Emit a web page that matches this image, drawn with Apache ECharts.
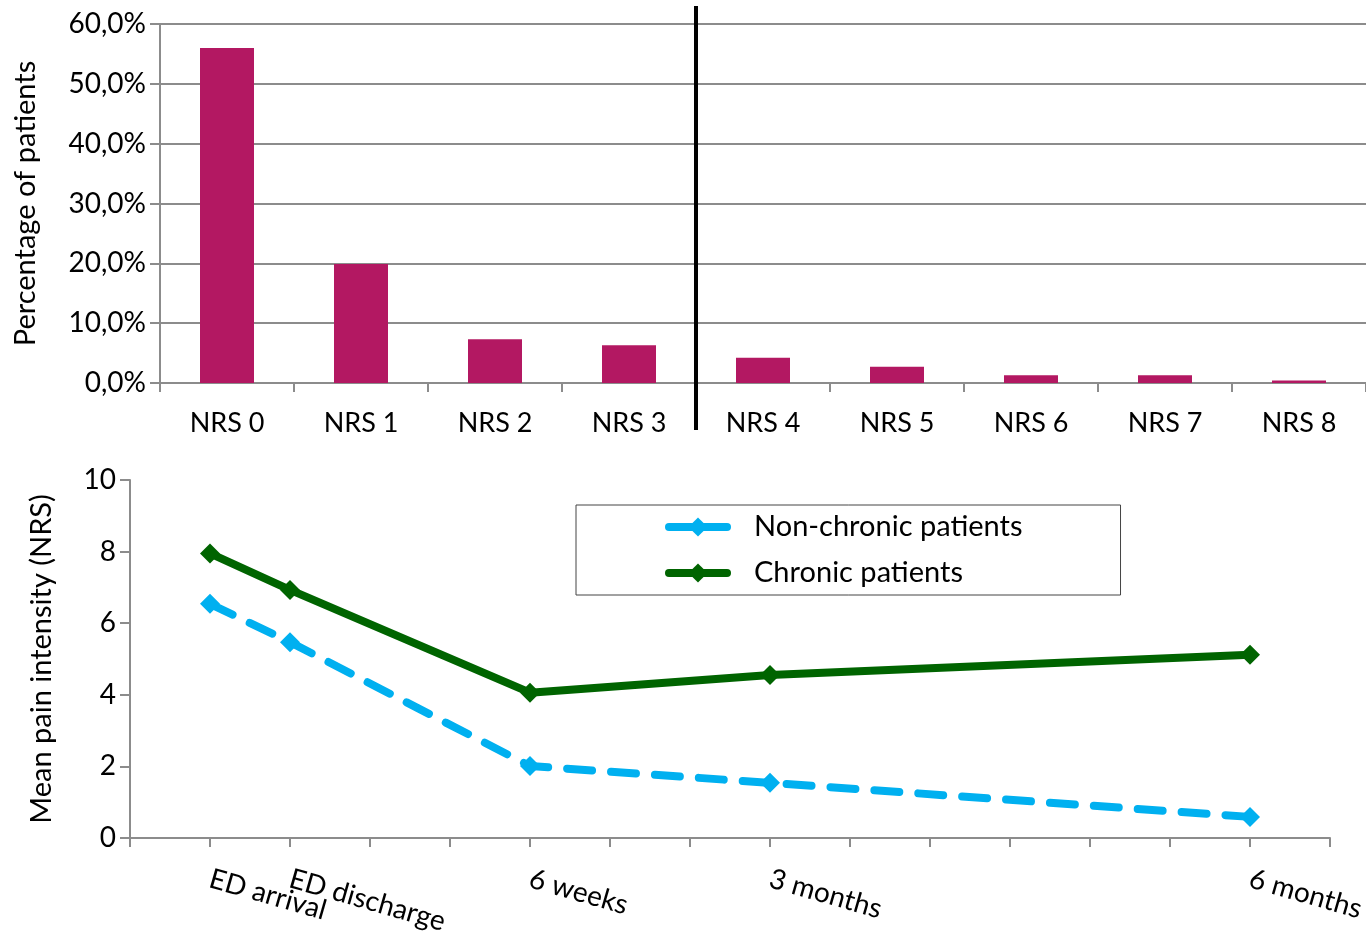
<!DOCTYPE html>
<html><head><meta charset="utf-8">
<script src="https://cdn.jsdelivr.net/npm/echarts@6/dist/echarts.min.js"></script>
<style>html,body{margin:0;padding:0;background:#fff}#c{width:1366px;height:932px}</style>
</head><body><div id="c"></div>
<script>
const nrsCategories = ['NRS 0','NRS 1','NRS 2','NRS 3','NRS 4','NRS 5','NRS 6','NRS 7','NRS 8'];
const nrsPercent = [56.0, 19.9, 7.3, 6.3, 4.2, 2.7, 1.3, 1.3, 0.4];
const percentTicks = {min: 0, max: 60, interval: 10};
const timeLabels = ['', 'ED arrival', 'ED discharge', '', '', '6 weeks', '', '', '3 months', '', '', '', '', '', '6 months', ''];
const nonChronic = [null, 6.54, 5.47, null, null, 2.01, null, null, 1.54, null, null, null, null, null, 0.59, null];
const chronic = [null, 7.95, 6.93, null, null, 4.06, null, null, 4.55, null, null, null, null, null, 5.12, null];
const painTicks = {min: 0, max: 10, interval: 2};

const FONT = 'Lato';
const GRAY = '#8c8c8c';
const chart = echarts.init(document.getElementById('c'), null, {renderer: 'canvas'});
const axisLabelBase = {color: '#000', fontFamily: FONT, fontSize: 28};

chart.setOption({
  animation: false,
  textStyle: {fontFamily: FONT},
  grid: [
    {left: 160, top: 24, width: 1206, height: 359, outerBoundsMode: 'none', containLabel: false},
    {left: 130, top: 480, width: 1200, height: 358, outerBoundsMode: 'none', containLabel: false}
  ],
  xAxis: [
    {gridIndex: 0, type: 'category', data: nrsCategories, boundaryGap: true,
     axisLine: {lineStyle: {color: GRAY, width: 2}},
     axisTick: {show: true, interval: 0, length: 9, lineStyle: {color: GRAY, width: 2}},
     axisLabel: Object.assign({}, axisLabelBase, {fontSize: 27, margin: 27, interval: 0})},
    {gridIndex: 1, type: 'category', data: timeLabels, boundaryGap: false,
     axisLine: {lineStyle: {color: GRAY, width: 2}},
     axisTick: {show: true, interval: 0, length: 9, lineStyle: {color: GRAY, width: 2}},
     axisLabel: Object.assign({}, axisLabelBase, {margin: 40, interval: 0, rotate: -16})}
  ],
  yAxis: [
    {gridIndex: 0, type: 'value', min: percentTicks.min, max: percentTicks.max, interval: percentTicks.interval,
     name: 'Percentage of patients', nameLocation: 'middle', nameGap: 120, nameRotate: 90,
     nameTextStyle: {color: '#000', fontFamily: FONT, fontSize: 29},
     axisLine: {show: true, lineStyle: {color: GRAY, width: 2}},
     axisTick: {show: true, length: 10, lineStyle: {color: GRAY, width: 2}},
     splitLine: {show: true, lineStyle: {color: GRAY, width: 2}},
     axisLabel: Object.assign({}, axisLabelBase, {margin: 14,
       formatter: v => v.toFixed(1).replace('.', ',') + '%'})},
    {gridIndex: 1, type: 'value', min: painTicks.min, max: painTicks.max, interval: painTicks.interval,
     name: 'Mean pain intensity (NRS)', nameLocation: 'middle', nameGap: 74, nameRotate: 90,
     nameTextStyle: {color: '#000', fontFamily: FONT, fontSize: 29},
     axisLine: {show: true, lineStyle: {color: GRAY, width: 2}},
     axisTick: {show: true, length: 10, lineStyle: {color: GRAY, width: 2}},
     splitLine: {show: false},
     axisLabel: Object.assign({}, axisLabelBase, {margin: 14})}
  ],
  legend: {
    orient: 'vertical', left: 576, top: 505,
    padding: [7, 98, 7, 89],
    borderColor: '#444', borderWidth: 1,
    itemWidth: 58, itemHeight: 24, itemGap: 16,
    data: ['Non-chronic patients', 'Chronic patients'],
    lineStyle: {width: 8, type: 'solid', cap: 'round'},
    textStyle: {color: '#000', fontFamily: FONT, fontSize: 29, lineHeight: 30, padding: [0, 0, 0, 22]}
  },
  series: [
    {type: 'bar', xAxisIndex: 0, yAxisIndex: 0, data: nrsPercent, barWidth: 54,
     itemStyle: {color: '#B31862'}},
    {name: 'Non-chronic patients', type: 'line', xAxisIndex: 1, yAxisIndex: 1, data: nonChronic,
     connectNulls: true, symbol: 'diamond', symbolSize: 20,
     itemStyle: {color: '#00B0F0'},
     lineStyle: {color: '#00B0F0', width: 8, type: [25, 19], cap: 'round'}},
    {name: 'Chronic patients', type: 'line', xAxisIndex: 1, yAxisIndex: 1, data: chronic,
     connectNulls: true, symbol: 'diamond', symbolSize: 20,
     itemStyle: {color: '#006400'},
     lineStyle: {color: '#006400', width: 8, type: 'solid'}}
  ]
});

const x3 = chart.convertToPixel({xAxisIndex: 0}, 'NRS 3');
const x4 = chart.convertToPixel({xAxisIndex: 0}, 'NRS 4');
const xd = (x3 + x4) / 2;
chart.setOption({
  graphic: [{type: 'line', shape: {x1: xd, y1: 6, x2: xd, y2: 430}, style: {stroke: '#000', lineWidth: 4}, z: 100}]
});
</script></body></html>
